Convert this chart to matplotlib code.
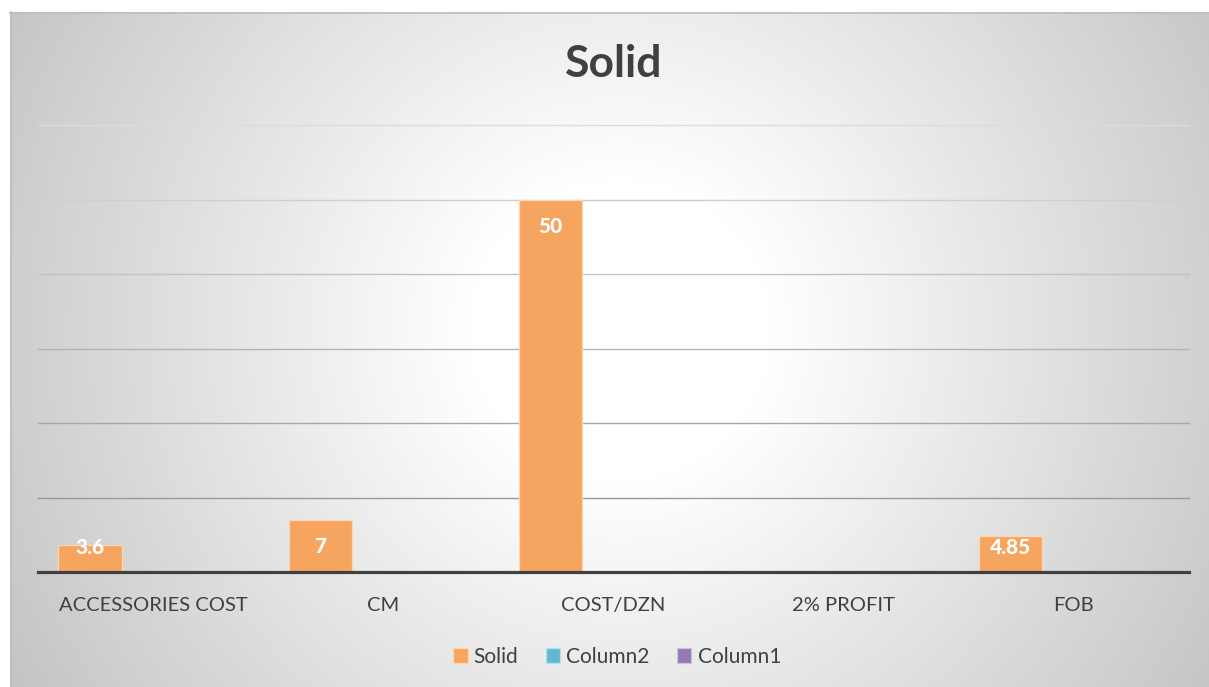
import numpy as np
import matplotlib
matplotlib.use("Agg")
import matplotlib.pyplot as plt
from matplotlib.colors import to_rgb

# ---- data ----
categories = ["ACCESSORIES COST", "CM", "COST/DZN", "2% PROFIT", "FOB"]
series_names = ["Solid", "Column2", "Column1"]
solid = [3.6, 7, 50, None, 4.85]
column2 = [None, None, None, None, None]
column1 = [None, None, None, None, None]
y_ticks = [0, 10, 20, 30, 40, 50, 60]

colors = ["#F5A560", "#63B7CF", "#9579B3"]
edges = ["#FBD6B3", "#B8E0EC", "#CDBEDD"]

W, H = 1209, 687
DPI = 100
plt.rcParams["font.family"] = ["Lato", "DejaVu Sans"]

fig = plt.figure(figsize=(W / DPI, H / DPI), dpi=DPI)
fig.patch.set_facecolor("white")

# ---- radial gradient chart background ----
bg = fig.add_axes([0, 0, 1, 1], zorder=0)
bg.set_xlim(0, W)
bg.set_ylim(H, 0)
bg.axis("off")
xx, yy = np.meshgrid(np.arange(W) + 0.5, np.arange(H) + 0.5)
r = np.hypot(xx - 620, yy - 330)
val = np.clip(255 - np.clip(r - 150, 0, None) * 0.106, 190, 255) / 255.0
img = np.dstack([val, val, val])
img[:12, :, :] = 1.0
img[:, :10, :] = 1.0
bg.imshow(img, extent=(0, W, H, 0), interpolation="bilinear", aspect="auto")
bg.plot([10.5, 10.5], [12, H], color="#BDBDBD", lw=1.2)
bg.plot([10, W], [12.5, 12.5], color="#BDBDBD", lw=1.2)

# ---- plot area ----
x0, x1, ytop, ybot = 38, 1189, 125, 572
ax = fig.add_axes([x0 / W, 1 - ybot / H, (x1 - x0) / W, (ybot - ytop) / H], zorder=1)
ax.patch.set_alpha(0)
ax.set_xlim(-0.5, len(categories) - 0.5)
ax.set_ylim(y_ticks[0], y_ticks[-1])

# gridlines get darker toward the bottom of the plot
light, dark = np.array(to_rgb("#DCDCDC")), np.array(to_rgb("#9A9A9A"))
for v in y_ticks[1:]:
    t = (v - y_ticks[1]) / (y_ticks[-1] - y_ticks[1])
    ax.axhline(v, color=dark + (light - dark) * t, lw=1.0, zorder=1, clip_on=False)

x = np.arange(len(categories))
bw = 0.274
all_series = [solid, column2, column1]
containers = []
for i, (name, vals) in enumerate(zip(series_names, all_series)):
    h = np.array([np.nan if v is None else v for v in vals], dtype=float)
    c = ax.bar(x + (i - 1) * bw, h, width=bw, color=colors[i], edgecolor=edges[i],
               linewidth=0.9, label=name, zorder=2)
    containers.append(c)

# value labels: inside end, kept above the axis
px_per_unit = (ybot - ytop) / (y_ticks[-1] - y_ticks[0])
for xi, v in zip(x, solid):
    if v is None:
        continue
    yc = max(v - 27 / px_per_unit, 25 / px_per_unit)
    ax.text(xi - bw, yc, f"{v:g}", ha="center", va="center", color="white",
            fontsize=15, fontweight="black", zorder=3)

ax.axhline(0, color="#404040", lw=2.3, zorder=4, clip_on=False)
for s in ax.spines.values():
    s.set_visible(False)
ax.set_yticks([])
ax.set_xticks(x)
ax.set_xticklabels(categories, fontsize=14.5, color="#404040")
ax.tick_params(axis="x", length=0, pad=18)

fig.text(614 / W, 1 - 64 / H, "Solid", ha="center", va="center", fontsize=32,
         fontweight="bold", color="#404040")

handles = [c.patches[0] for c in containers]
leg = fig.legend(handles, series_names, loc="center", bbox_to_anchor=(617 / W, 1 - 657 / H),
                 ncol=3, frameon=False, fontsize=15, handlelength=0.7, handleheight=0.7,
                 handletextpad=0.3, columnspacing=1.3)
for t in leg.get_texts():
    t.set_color("#404040")

fig.savefig("out.png", dpi=DPI)
